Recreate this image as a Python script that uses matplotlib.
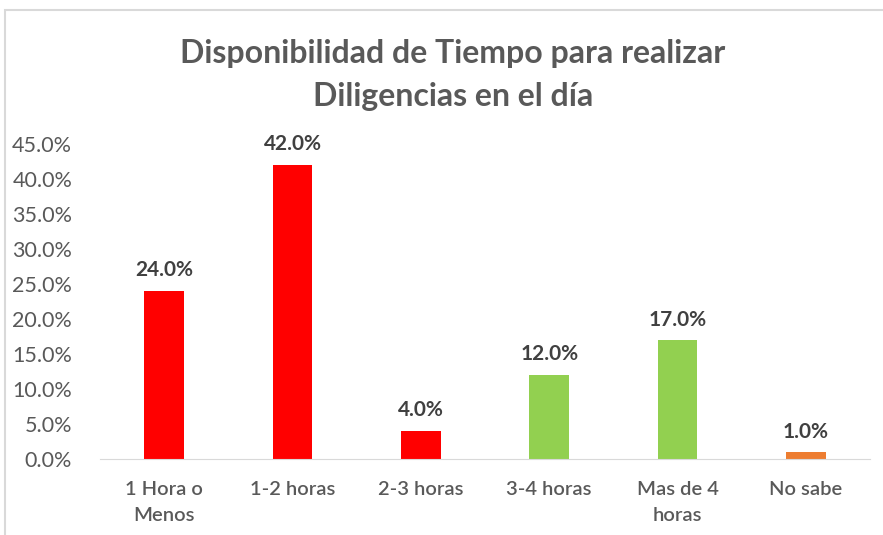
import matplotlib
matplotlib.use("Agg")
import matplotlib.pyplot as plt
from matplotlib.patches import Rectangle

plt.rcParams['font.family'] = ['Lato', 'DejaVu Sans']

categorias = ["1 Hora o\nMenos", "1-2 horas", "2-3 horas", "3-4 horas", "Mas de 4\nhoras", "No sabe"]
valores = [24.0, 42.0, 4.0, 12.0, 17.0, 1.0]
colores = ["#ff0000", "#ff0000", "#ff0000", "#92d050", "#92d050", "#ed7d31"]
yticks = [0, 5, 10, 15, 20, 25, 30, 35, 40, 45]

fig = plt.figure(figsize=(8.83, 5.35), dpi=100)
ax = fig.add_axes([100 / 883, 1 - 459 / 535, 770 / 883, 315 / 535])

x = range(len(categorias))
ax.bar(x, valores, width=0.31, color=colores)
for i, v in zip(x, valores):
    ax.text(i, v + 1.5, "%.1f%%" % v, ha="center", va="bottom",
            fontsize=15, fontweight="bold", color="#404040")

ax.set_xlim(-0.5, len(categorias) - 0.5)
ax.set_ylim(0, 45)
ax.set_yticks(yticks)
ax.set_yticklabels(["%.1f%%" % t for t in yticks], fontsize=15.5)
ax.set_xticks(list(x))
ax.set_xticklabels(categorias, linespacing=1.6, fontsize=14.5, fontweight="semibold")
ax.tick_params(axis="both", length=0, labelcolor="#595959")
ax.tick_params(axis="x", pad=16)
ax.tick_params(axis="y", pad=20)
for s in ["top", "right", "left"]:
    ax.spines[s].set_visible(False)
ax.spines["bottom"].set_color("#d9d9d9")

fig.text(0.513, 1 - 75 / 535, "Disponibilidad de Tiempo para realizar\nDiligencias en el día",
         ha="center", va="center", fontsize=23, fontweight="bold", color="#595959",
         linespacing=1.55)

# marco del grafico
fig.patches.append(Rectangle((5 / 883, -0.1), 1.1, 1 - 10 / 535 + 0.1,
                             transform=fig.transFigure, fill=False,
                             edgecolor="#d9d9d9", linewidth=1.5))

fig.savefig("out.png", dpi=100)
